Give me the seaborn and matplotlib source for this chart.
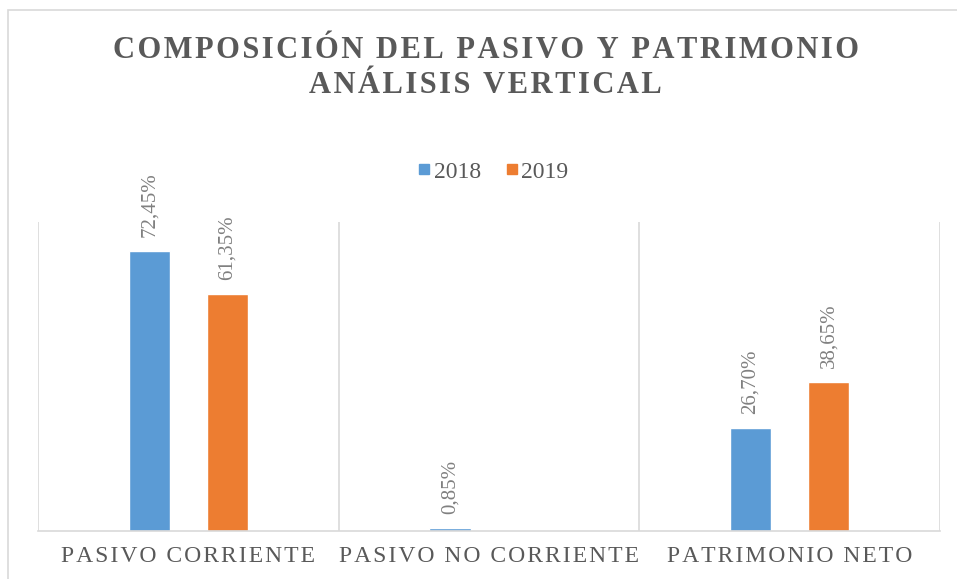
import matplotlib
matplotlib.use("Agg")
import matplotlib.pyplot as plt
from matplotlib.lines import Line2D
from matplotlib.patches import Rectangle
import seaborn as sns
import pandas as pd

# Chart data
categories = ["PASIVO CORRIENTE", "PASIVO NO CORRIENTE", "PATRIMONIO NETO"]
years = ["2018", "2019"]
values_2018 = [72.45, 0.85, 26.70]
values_2019 = [61.35, 0.0, 38.65]
colors = ["#5B9BD5", "#ED7D31"]
title_lines = ["COMPOSICIÓN DEL PASIVO Y PATRIMONIO", "ANÁLISIS VERTICAL"]

sns.set_style("white")
plt.rcParams["font.family"] = ["Liberation Serif", "DejaVu Serif"]


def spaced(s):
    # Excel-style letter spacing with hair spaces
    return "\u200a".join(s)


# Long-form table for seaborn
rows = []
for cat, a, b in zip(categories, values_2018, values_2019):
    rows.append({"cat": cat, "year": years[0], "val": a})
    rows.append({"cat": cat, "year": years[1], "val": b})
df = pd.DataFrame(rows)

fig = plt.figure(figsize=(9.57, 5.79), dpi=100)
ax = fig.add_axes([0.0397, 0.0829, 0.9425, 0.5337])

sns.barplot(data=df, x="cat", y="val", hue="year", palette=colors, saturation=1,
            width=0.52, gap=0.47, errorbar=None, ax=ax, legend=False)

ax.set_ylim(0, 80)
ax.set_xlim(-0.5, 2.5)
ax.set_xlabel("")
ax.set_ylabel("")
ax.set_yticks([])
ax.tick_params(axis="x", length=0, pad=11)
ax.set_xticks(range(len(categories)))
ax.set_xticklabels([spaced(c) for c in categories], fontsize=17, color="#595959")

# vertical separators between categories
for xb in [-0.5, 0.5, 1.5, 2.5]:
    ax.axvline(xb, color="#d9d9d9", lw=1.2, zorder=0)
for side in ["top", "right", "left"]:
    ax.spines[side].set_visible(False)
ax.spines["bottom"].set_color("#d9d9d9")
ax.spines["bottom"].set_linewidth(1.2)

# data labels (no label where the value is zero)
for cont, vals in zip(ax.containers, [values_2018, values_2019]):
    labels = ["" if v == 0 else f"{v:.2f}%".replace(".", ",") for v in vals]
    ax.bar_label(cont, labels=labels, rotation=90, padding=10,
                 fontsize=15, color="#808080")

# legend
handles = [Line2D([0], [0], marker="s", linestyle="", markersize=7,
                  markerfacecolor=c, markeredgecolor=c) for c in colors]
fig.legend(handles, years, loc="center", bbox_to_anchor=(0.515, 0.703),
           ncol=2, frameon=False, fontsize=17, handlelength=0.6,
           handletextpad=0.1, columnspacing=1.0, labelcolor="#595959")

fig.text(0.5075, 0.912, spaced(title_lines[0]),
         ha="center", va="center", fontsize=22, fontweight="bold", color="#595959")
fig.text(0.5075, 0.853, spaced(title_lines[1]),
         ha="center", va="center", fontsize=22, fontweight="bold", color="#595959")

# outer chart border (partly cropped in the reference)
fig.patches.append(Rectangle((0.0084, -0.05), 1.1, 1.033, transform=fig.transFigure,
                             fill=False, edgecolor="#d9d9d9", lw=1.2))

fig.savefig("out.png", dpi=100)
